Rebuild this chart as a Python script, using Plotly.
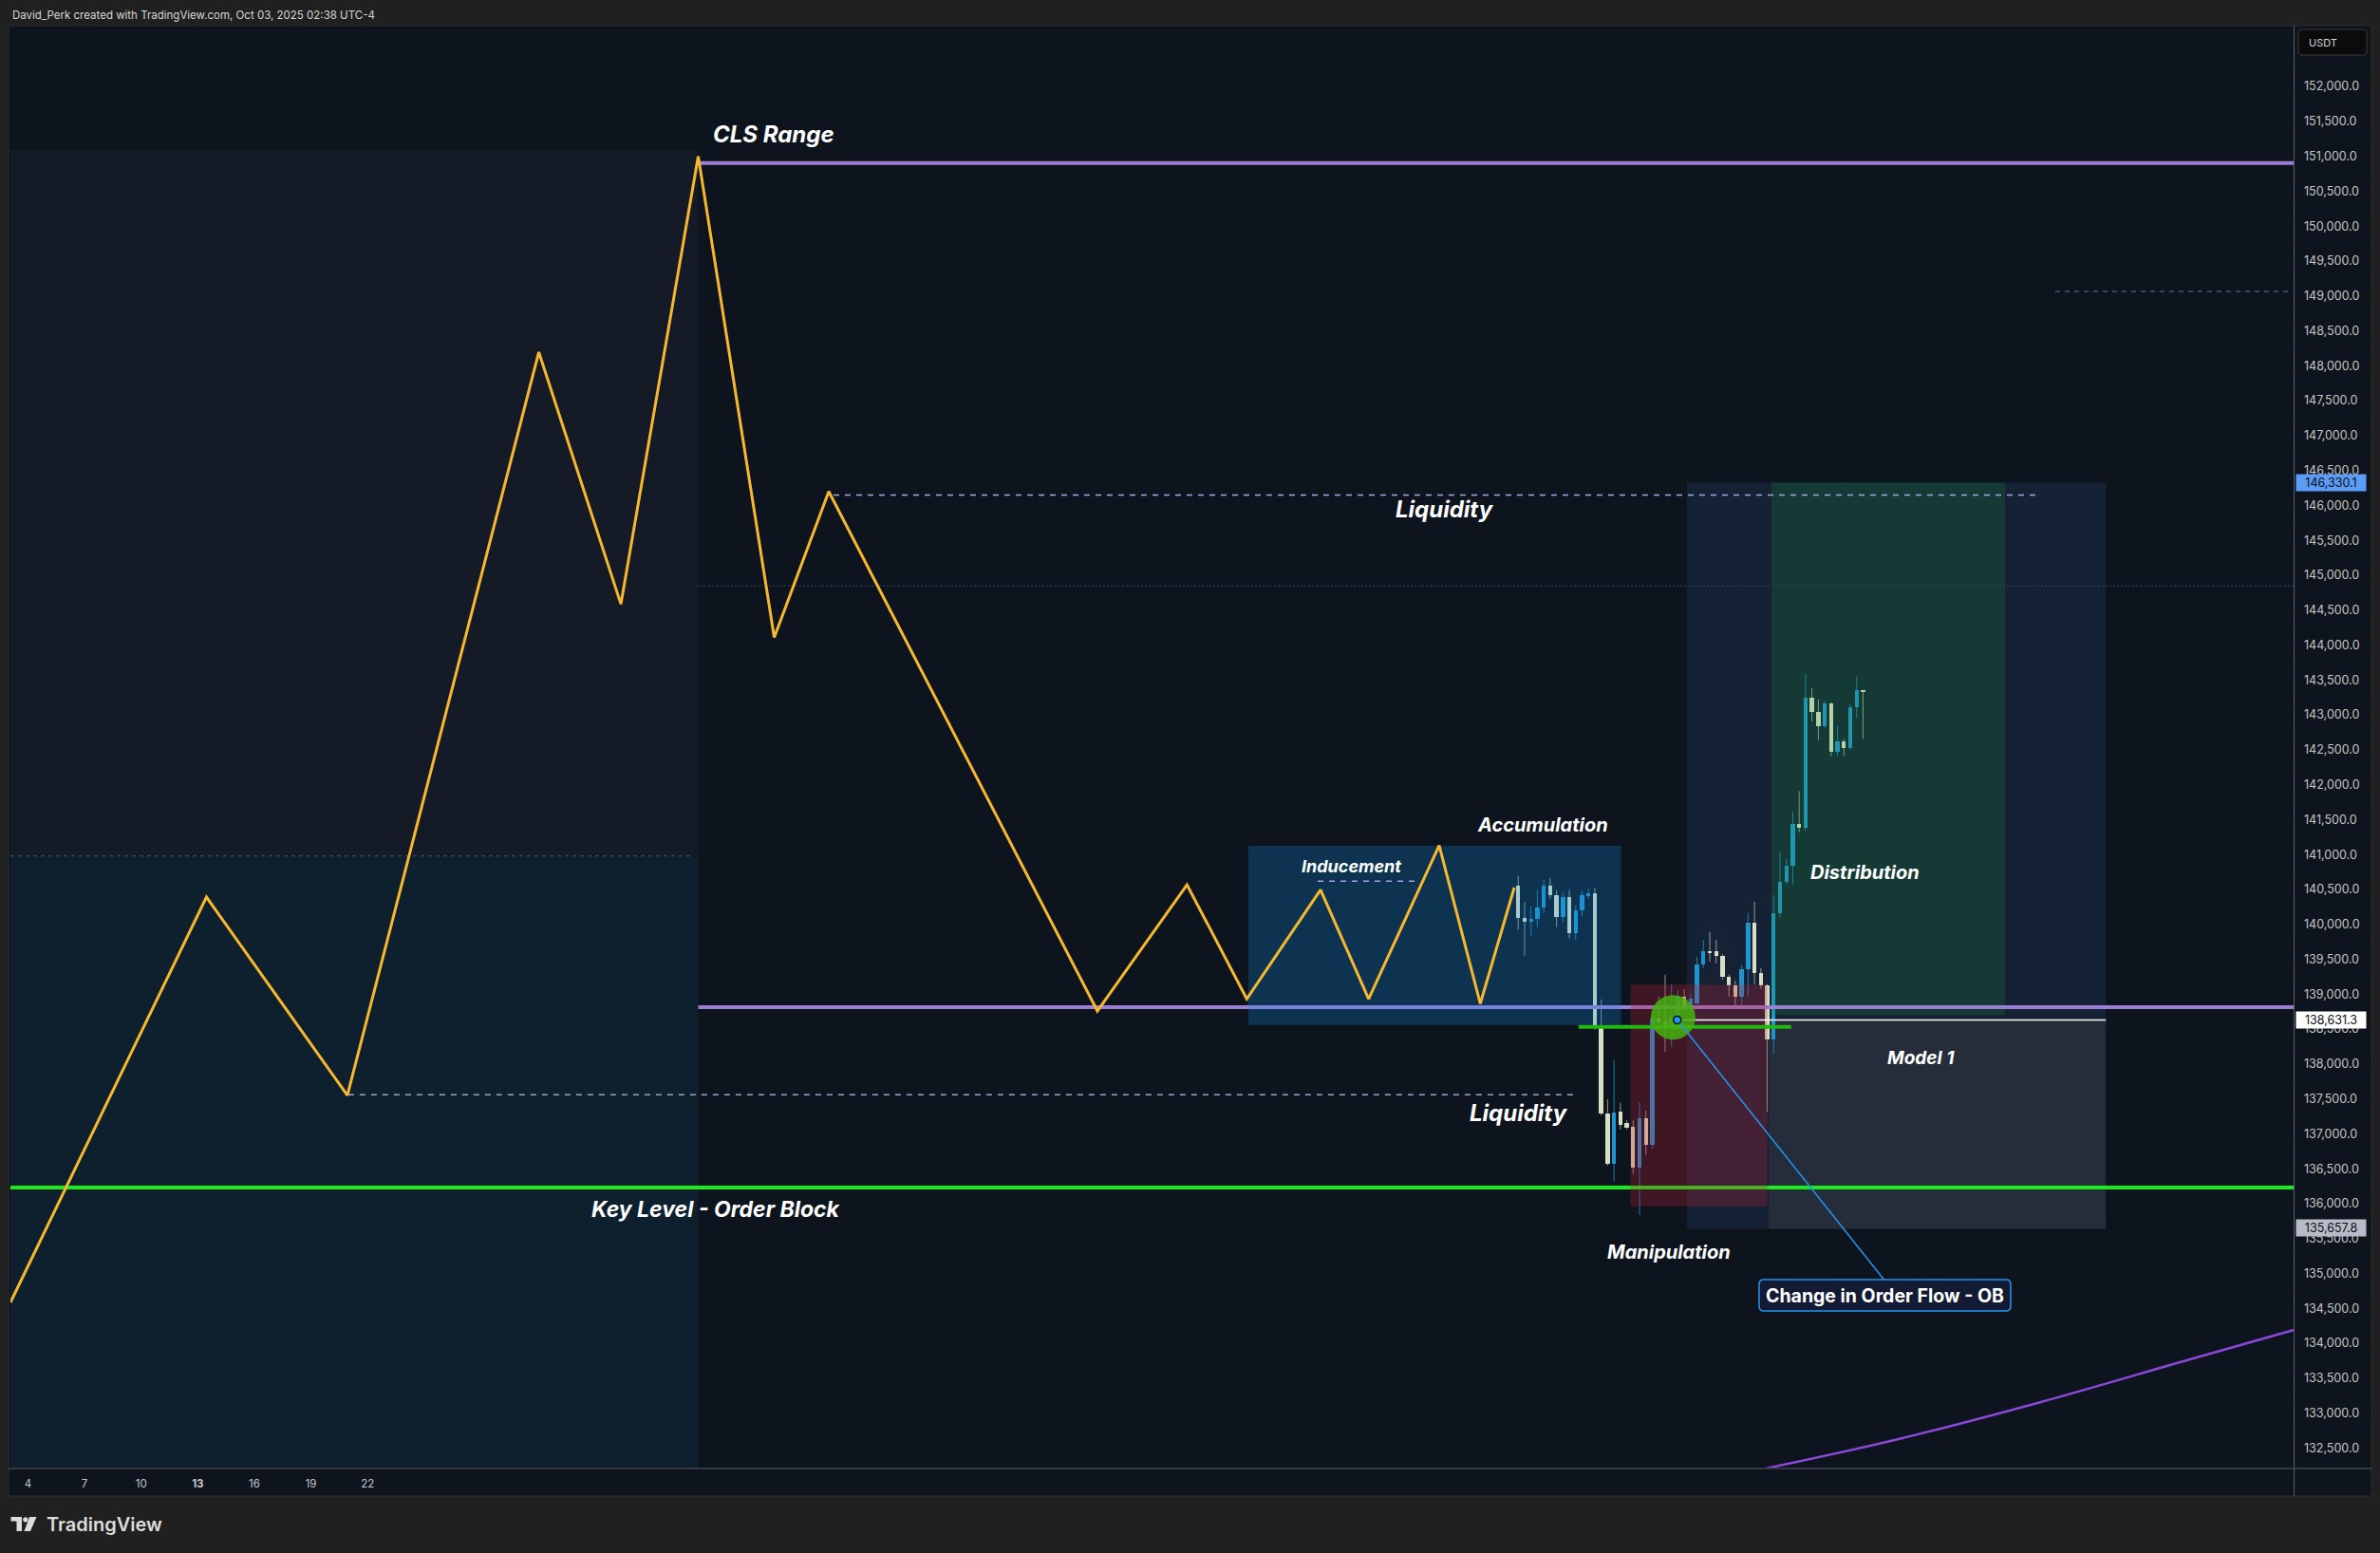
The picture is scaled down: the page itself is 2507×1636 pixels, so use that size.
import plotly.graph_objects as go

# ------------------------------------------------------------------ data
day_ticks = [4, 7, 10, 13, 16, 19, 22]
day_tick_text = ["4", "7", "10", "<b>13</b>", "16", "19", "22"]
price_ticks = [132500 + 500 * i for i in range(40)]          # 132,500 ... 152,000

# schematic swing path (yellow)
zigzag_day = [3.07, 13.46, 20.93, 31.08, 35.43, 39.53, 43.56, 46.45,
              60.69, 65.44, 68.61, 72.52, 75.07, 78.81, 80.99, 82.79]
zigzag_price = [134585, 140390, 137550, 148195, 144586, 151000, 144108, 146200,
                138759, 140567, 138932, 140495, 138932, 141129, 138864, 140526]

# 8h candles
candle_start, candle_step = 83.0, 0.3385
c_open = [140549, 140087, 140041, 140074, 140241, 140549, 140421, 140105, 140390, 139878,
          140196, 140404, 140449, 138514, 137295, 136571, 137322, 137151, 137097, 136516,
          137219, 136843, 138646, 138610, 138555, 138691, 138963, 138827, 138864, 139429,
          139620, 139620, 139552, 139253, 139122, 138963, 139357, 140028, 139303, 139122,
          138351, 140163, 140604, 140843, 141433, 141387, 143245, 143042, 142838, 143164,
          142475, 142621, 142521, 143110, 143355]
c_high = [140694, 140322, 140254, 140493, 140639, 140662, 140493, 140458, 140493, 140277,
          140481, 140513, 140526, 138922, 137495, 138056, 137445, 137196, 137196, 137458,
          137332, 138691, 138963, 139280, 139140, 139058, 139072, 139008, 139534, 139779,
          139892, 139779, 139575, 139280, 139194, 139416, 140163, 140322, 139371, 139144,
          140418, 141030, 140934, 141614, 141909, 143586, 143382, 143222, 143201, 143178,
          142851, 142657, 143155, 143549, 143355]
c_low = [139925, 139552, 139824, 139960, 140163, 140367, 139960, 140028, 139802, 139779,
         140119, 140367, 138487, 137264, 136543, 136312, 137060, 137060, 136425, 135836,
         136697, 136788, 138555, 138175, 138243, 138514, 138759, 138664, 138854, 139371,
         139466, 139439, 139212, 138963, 138827, 138827, 138963, 139144, 139076, 137309,
         138148, 140095, 140571, 140571, 141319, 141342, 142906, 142634, 142815, 142407,
         142407, 142407, 142498, 142951, 142657]
c_close = [140087, 140041, 140074, 140241, 140549, 140421, 140105, 140390, 139878, 140196,
           140414, 140449, 138555, 137295, 136571, 137309, 137128, 137083, 136516, 137219,
           136843, 138646, 138596, 138555, 138664, 138963, 138827, 138936, 139429, 139620,
           139589, 139552, 139245, 139122, 138963, 139357, 140028, 139303, 139122, 138351,
           140163, 140604, 140843, 141433, 141379, 143245, 143042, 142838, 143164, 142467,
           142621, 142521, 143110, 143359, 143327]

# levels
cls_high = 150904
range_low = 138814
key_level = 136230
liq_high = 146150
liq_low = 137558
inducement = 140618
left_level = 140979
upper_right_level = 149065
mid_dotted = 144850
ob_level = 138532
entry_price = 138631.3
target_price = 146330.1
stop_price = 135657.8

# zones (day0, day1, price0, price1)
left_zone_hi = (3.069, 39.53, 140979, 151094)
left_zone_lo = (3.069, 39.53, 130000, 140979)
accum_zone = (68.69, 88.45, 138559, 141125)
manip_zone = (88.95, 96.20, 135962, 139135)
frame_zone = (91.94, 114.15, 135640, 146330)
profit_zone = (96.43, 108.81, 138700, 146330)
model_zone = (96.28, 114.15, 135640, 138631.3)

# order-flow circle / callout
ob_circle = (91.21, 138668)
ob_dot = (91.43, 138631.3)
callout_end = (102.38, 134915)
callout_text_pos = (102.45, 134684)

# moving curve (violet)
curve_day = [96.12, 103.16, 110.71, 118.26, 124.11]
curve_price = [132206, 132627, 133158, 133742, 134190]

# text labels: (text, day, price, size)
labels = [
    ("CLS Range", 43.53, 151321, 24),
    ("Liquidity", 79.11, 145951, 24),
    ("Liquidity", 83.04, 137304, 24),
    ("Key Level - Order Block", 40.51, 135911, 23),
    ("Accumulation", 84.30, 141424, 20),
    ("Inducement", 74.18, 140826, 18),
    ("Distribution", 101.36, 140739, 20),
    ("Model 1", 104.33, 138087, 19),
    ("Manipulation", 90.97, 135301, 20),
]

# ------------------------------------------------------------------ layout geometry
W, H = 2507, 1636
PL, PR, PT, PB = 11, 2416, 27, 1546
X_RANGE = [3.069, 124.105]
Y_RANGE = [132219.4, 152871.5]
FONT = "Inter, 'Noto Sans', sans-serif"


def paper_x(px):
    return (px - PL) / (PR - PL)


def paper_y(py):
    return (PB - py) / (PB - PT)


def rounded_rect_path(x0, y0, x1, y1, r):
    """pixel box -> paper-coordinate SVG path with rounded corners"""
    pts = [
        ("M", [(x0 + r, y0)]), ("L", [(x1 - r, y0)]), ("Q", [(x1, y0), (x1, y0 + r)]),
        ("L", [(x1, y1 - r)]), ("Q", [(x1, y1), (x1 - r, y1)]),
        ("L", [(x0 + r, y1)]), ("Q", [(x0, y1), (x0, y1 - r)]),
        ("L", [(x0, y0 + r)]), ("Q", [(x0, y0), (x0 + r, y0)]),
    ]
    s = ""
    for cmd, cs in pts:
        s += cmd + " " + " ".join(f"{paper_x(a):.6f},{paper_y(b):.6f}" for a, b in cs) + " "
    return s + "Z"


UP_COL = "#1e95cc"
DN_COL = "#d8e0c4"

fig = go.Figure()

# candle bodies
n = len(c_open)
candle_time = [candle_start + candle_step * i for i in range(n)]
is_up = [c >= o for o, c in zip(c_open, c_close)]
fig.add_trace(go.Bar(
    x=candle_time,
    y=[abs(c - o) for o, c in zip(c_open, c_close)],
    base=[min(o, c) for o, c in zip(c_open, c_close)],
    width=0.22,
    marker=dict(color=[UP_COL if u else DN_COL for u in is_up], line=dict(width=0)),
    hoverinfo="skip",
))

# wicks
for want_up, col in ((True, "rgba(30,149,204,0.8)"), (False, "rgba(214,224,198,0.65)")):
    wx, wy = [], []
    for t, o, h, l, c, u in zip(candle_time, c_open, c_high, c_low, c_close, is_up):
        if u != want_up:
            continue
        top, bot = max(o, c), min(o, c)
        if h > top:
            wx += [t, t, None]
            wy += [top, h, None]
        if l < bot:
            wx += [t, t, None]
            wy += [bot, l, None]
    fig.add_trace(go.Scatter(x=wx, y=wy, mode="lines", line=dict(color=col, width=1),
                             hoverinfo="skip"))


def box_trace(zone, color):
    d0, d1, p0, p1 = zone
    return go.Scatter(x=[d0, d1, d1, d0, d0], y=[p0, p0, p1, p1, p0], mode="lines",
                      fill="toself", fillcolor=color, line=dict(width=0), hoverinfo="skip")


def hline(p, d0, d1, color, width, dash="solid"):
    return go.Scatter(x=[d0, d1], y=[p, p], mode="lines",
                      line=dict(color=color, width=width, dash=dash), hoverinfo="skip")


# profit zone tint (over candles)
fig.add_trace(box_trace(profit_zone, "rgba(26,154,53,0.2)"))

# levels
fig.add_trace(hline(mid_dotted, 39.46, X_RANGE[1], "#3a3e6e", 1, "2px,2px"))
fig.add_trace(hline(left_level, X_RANGE[0], 39.26, "#4e586e", 1, "4px,4px"))
fig.add_trace(hline(upper_right_level, 111.47, 124.0, "#6870a0", 1, "5px,5px"))
fig.add_trace(hline(liq_high, 46.70, 110.44, "#a5a8e6", 1.5, "6px,6px"))
fig.add_trace(hline(liq_low, 20.98, 86.06, "#9ea3c6", 1.5, "6px,6px"))
fig.add_trace(hline(cls_high, 39.53, X_RANGE[1], "#9a7fd4", 4))
fig.add_trace(hline(range_low, 39.53, X_RANGE[1], "#9a7fd4", 4))
fig.add_trace(hline(key_level, X_RANGE[0], X_RANGE[1], "#1aeb1a", 4))

# zones over candles
fig.add_trace(box_trace(manip_zone, "rgba(190,30,50,0.28)"))
fig.add_trace(box_trace(accum_zone, "rgba(15,144,230,0.25)"))

# swing path
fig.add_trace(go.Scatter(x=zigzag_day, y=zigzag_price, mode="lines",
                         line=dict(color="#f5b82e", width=3), hoverinfo="skip"))
fig.add_trace(hline(inducement, 72.37, 77.66, "#a99cf0", 1.5, "6px,6px"))
fig.add_trace(hline(ob_level, 86.20, 97.47, "#23b510", 4))

# violet curve
fig.add_trace(go.Scatter(x=curve_day, y=curve_price, mode="lines", line_shape="spline",
                         line=dict(color="#8a48d8", width=2.5), hoverinfo="skip"))

# entry line, circle, callout
fig.add_trace(hline(entry_price, ob_dot[0], model_zone[1], "#ffffff", 1.5))
fig.add_trace(go.Scatter(x=[ob_circle[0]], y=[ob_circle[1]], mode="markers",
                         marker=dict(size=47, color="rgba(70,178,15,0.85)", line=dict(width=0)),
                         hoverinfo="skip"))
fig.add_trace(go.Scatter(x=[ob_dot[0], callout_end[0]], y=[ob_dot[1], callout_end[1]], mode="lines",
                         line=dict(color="#2196f3", width=1.5), hoverinfo="skip"))
fig.add_trace(go.Scatter(x=[ob_dot[0]], y=[ob_dot[1]], mode="markers",
                         marker=dict(size=8, color="#2196f3", line=dict(color="#0b0e14", width=1.5)),
                         hoverinfo="skip"))

# ------------------------------------------------------------------ shapes
shapes = [
    # chart frame (pane + scales)
    dict(type="rect", xref="paper", yref="paper", layer="below",
         x0=paper_x(9), x1=paper_x(2498), y0=paper_y(1576), y1=paper_y(27),
         fillcolor="#0e141e", line=dict(color="#2e2e2e", width=1)),
    dict(type="line", xref="paper", yref="paper", layer="above",
         x0=paper_x(2416.5), x1=paper_x(2416.5), y0=paper_y(1576), y1=paper_y(27),
         line=dict(color="#5a5d66", width=1)),
    dict(type="line", xref="paper", yref="paper", layer="above",
         x0=paper_x(9), x1=paper_x(2498), y0=paper_y(1547), y1=paper_y(1547),
         line=dict(color="#5a5d66", width=1)),
    # USDT box
    dict(type="path", xref="paper", yref="paper", layer="above",
         path=rounded_rect_path(2421, 31, 2493, 58, 4),
         fillcolor="#0b0b0b", line=dict(color="#3a3a3a", width=1)),
    # callout box
    dict(type="path", xref="paper", yref="paper", layer="above",
         path=rounded_rect_path(1853, 1348, 2118, 1381, 5),
         fillcolor="#131a33", line=dict(color="#2196f3", width=1.5)),
    # TradingView logo
    dict(type="rect", xref="paper", yref="paper", layer="above",
         x0=paper_x(11.5), x1=paper_x(23), y0=paper_y(1602.5), y1=paper_y(1598),
         fillcolor="#dcdcdc", line=dict(width=0)),
    dict(type="rect", xref="paper", yref="paper", layer="above",
         x0=paper_x(17.5), x1=paper_x(23), y0=paper_y(1613), y1=paper_y(1598),
         fillcolor="#dcdcdc", line=dict(width=0)),
    dict(type="circle", xref="paper", yref="paper", layer="above",
         x0=paper_x(24.2), x1=paper_x(29.4), y0=paper_y(1603.4), y1=paper_y(1598.2),
         fillcolor="#dcdcdc", line=dict(width=0)),
    dict(type="path", xref="paper", yref="paper", layer="above",
         path="M {:.6f},{:.6f} L {:.6f},{:.6f} L {:.6f},{:.6f} L {:.6f},{:.6f} Z".format(
             paper_x(31), paper_y(1598), paper_x(38.5), paper_y(1598),
             paper_x(32), paper_y(1613), paper_x(25.5), paper_y(1613)),
         fillcolor="#dcdcdc", line=dict(width=0)),
]
# zones drawn beneath candles
for zone, col in ((left_zone_hi, "#141b26"), (left_zone_lo, "#0e1f2d"),
                  (frame_zone, "#152235"), (model_zone, "#252c3a")):
    d0, d1, p0, p1 = zone
    shapes.append(dict(type="rect", xref="x", yref="y", layer="below",
                       x0=d0, x1=d1, y0=p0, y1=p1, fillcolor=col, line=dict(width=0)))

# ------------------------------------------------------------------ annotations
ann = []
for text, d, p, size in labels:
    ann.append(dict(x=d, y=p, xref="x", yref="y", text=text, showarrow=False,
                    xanchor="center", yanchor="middle",
                    font=dict(family=FONT, size=size, color="#ffffff", weight=700, style="italic")))

ann.append(dict(x=callout_text_pos[0], y=callout_text_pos[1], xref="x", yref="y",
                text="Change in Order Flow - OB",
                showarrow=False, xanchor="center", yanchor="middle",
                font=dict(family=FONT, size=19.5, color="#ffffff", weight=700)))

for price, bg, fg in ((target_price, "#5b9cf6", "#0b0e14"),
                      (entry_price, "#ffffff", "#0b0e14"),
                      (stop_price, "#b8bcc8", "#0b0e14")):
    ann.append(dict(x=1, xref="paper", xanchor="left", xshift=2, y=price, yref="y",
                    yanchor="middle", text=f"{price:,.1f}", showarrow=False,
                    width=70, height=14, borderpad=1.5, bgcolor=bg, align="center",
                    font=dict(family=FONT, size=12.5, color=fg)))

ann.append(dict(x=paper_x(2430), y=paper_y(44.5), xref="paper", yref="paper", text="USDT",
                showarrow=False, xanchor="left", yanchor="middle",
                font=dict(family=FONT, size=11, color="#d1d4dc")))
ann.append(dict(x=paper_x(11), y=paper_y(16.5), xref="paper", yref="paper",
                text="David_Perk created with TradingView.com, Oct 03, 2025 02:38 UTC-4",
                showarrow=False, xanchor="left", yanchor="middle",
                font=dict(family=FONT, size=11.5, color="#d6d6d6")))
ann.append(dict(x=paper_x(47), y=paper_y(1606), xref="paper", yref="paper", text="TradingView",
                showarrow=False, xanchor="left", yanchor="middle",
                font=dict(family=FONT, size=20, color="#dcdcdc", weight=600)))

fig.update_layout(
    width=W, height=H,
    margin=dict(l=PL, r=W - PR, t=PT, b=H - PB, pad=0),
    paper_bgcolor="#202020", plot_bgcolor="#0e141e",
    showlegend=False, bargap=0,
    shapes=shapes, annotations=ann,
    xaxis=dict(range=X_RANGE, showgrid=False, zeroline=False, showline=False,
               tickvals=day_ticks, ticktext=day_tick_text, ticks="",
               ticklabelstandoff=8,
               tickfont=dict(family=FONT, size=11.5, color="#c5c7c9"), fixedrange=True),
    yaxis=dict(range=Y_RANGE, side="right", showgrid=False, zeroline=False, showline=False,
               tickvals=price_ticks, tickformat=",.1f", ticks="", ticklabelstandoff=10,
               tickfont=dict(family=FONT, size=12.5, color="#c5c7c0"), fixedrange=True),
)

fig.write_html("out.html", config={"displayModeBar": False},
               post_script="document.body.style.margin='0';document.body.style.overflow='hidden';"
                           "document.body.style.background='#202020';")
